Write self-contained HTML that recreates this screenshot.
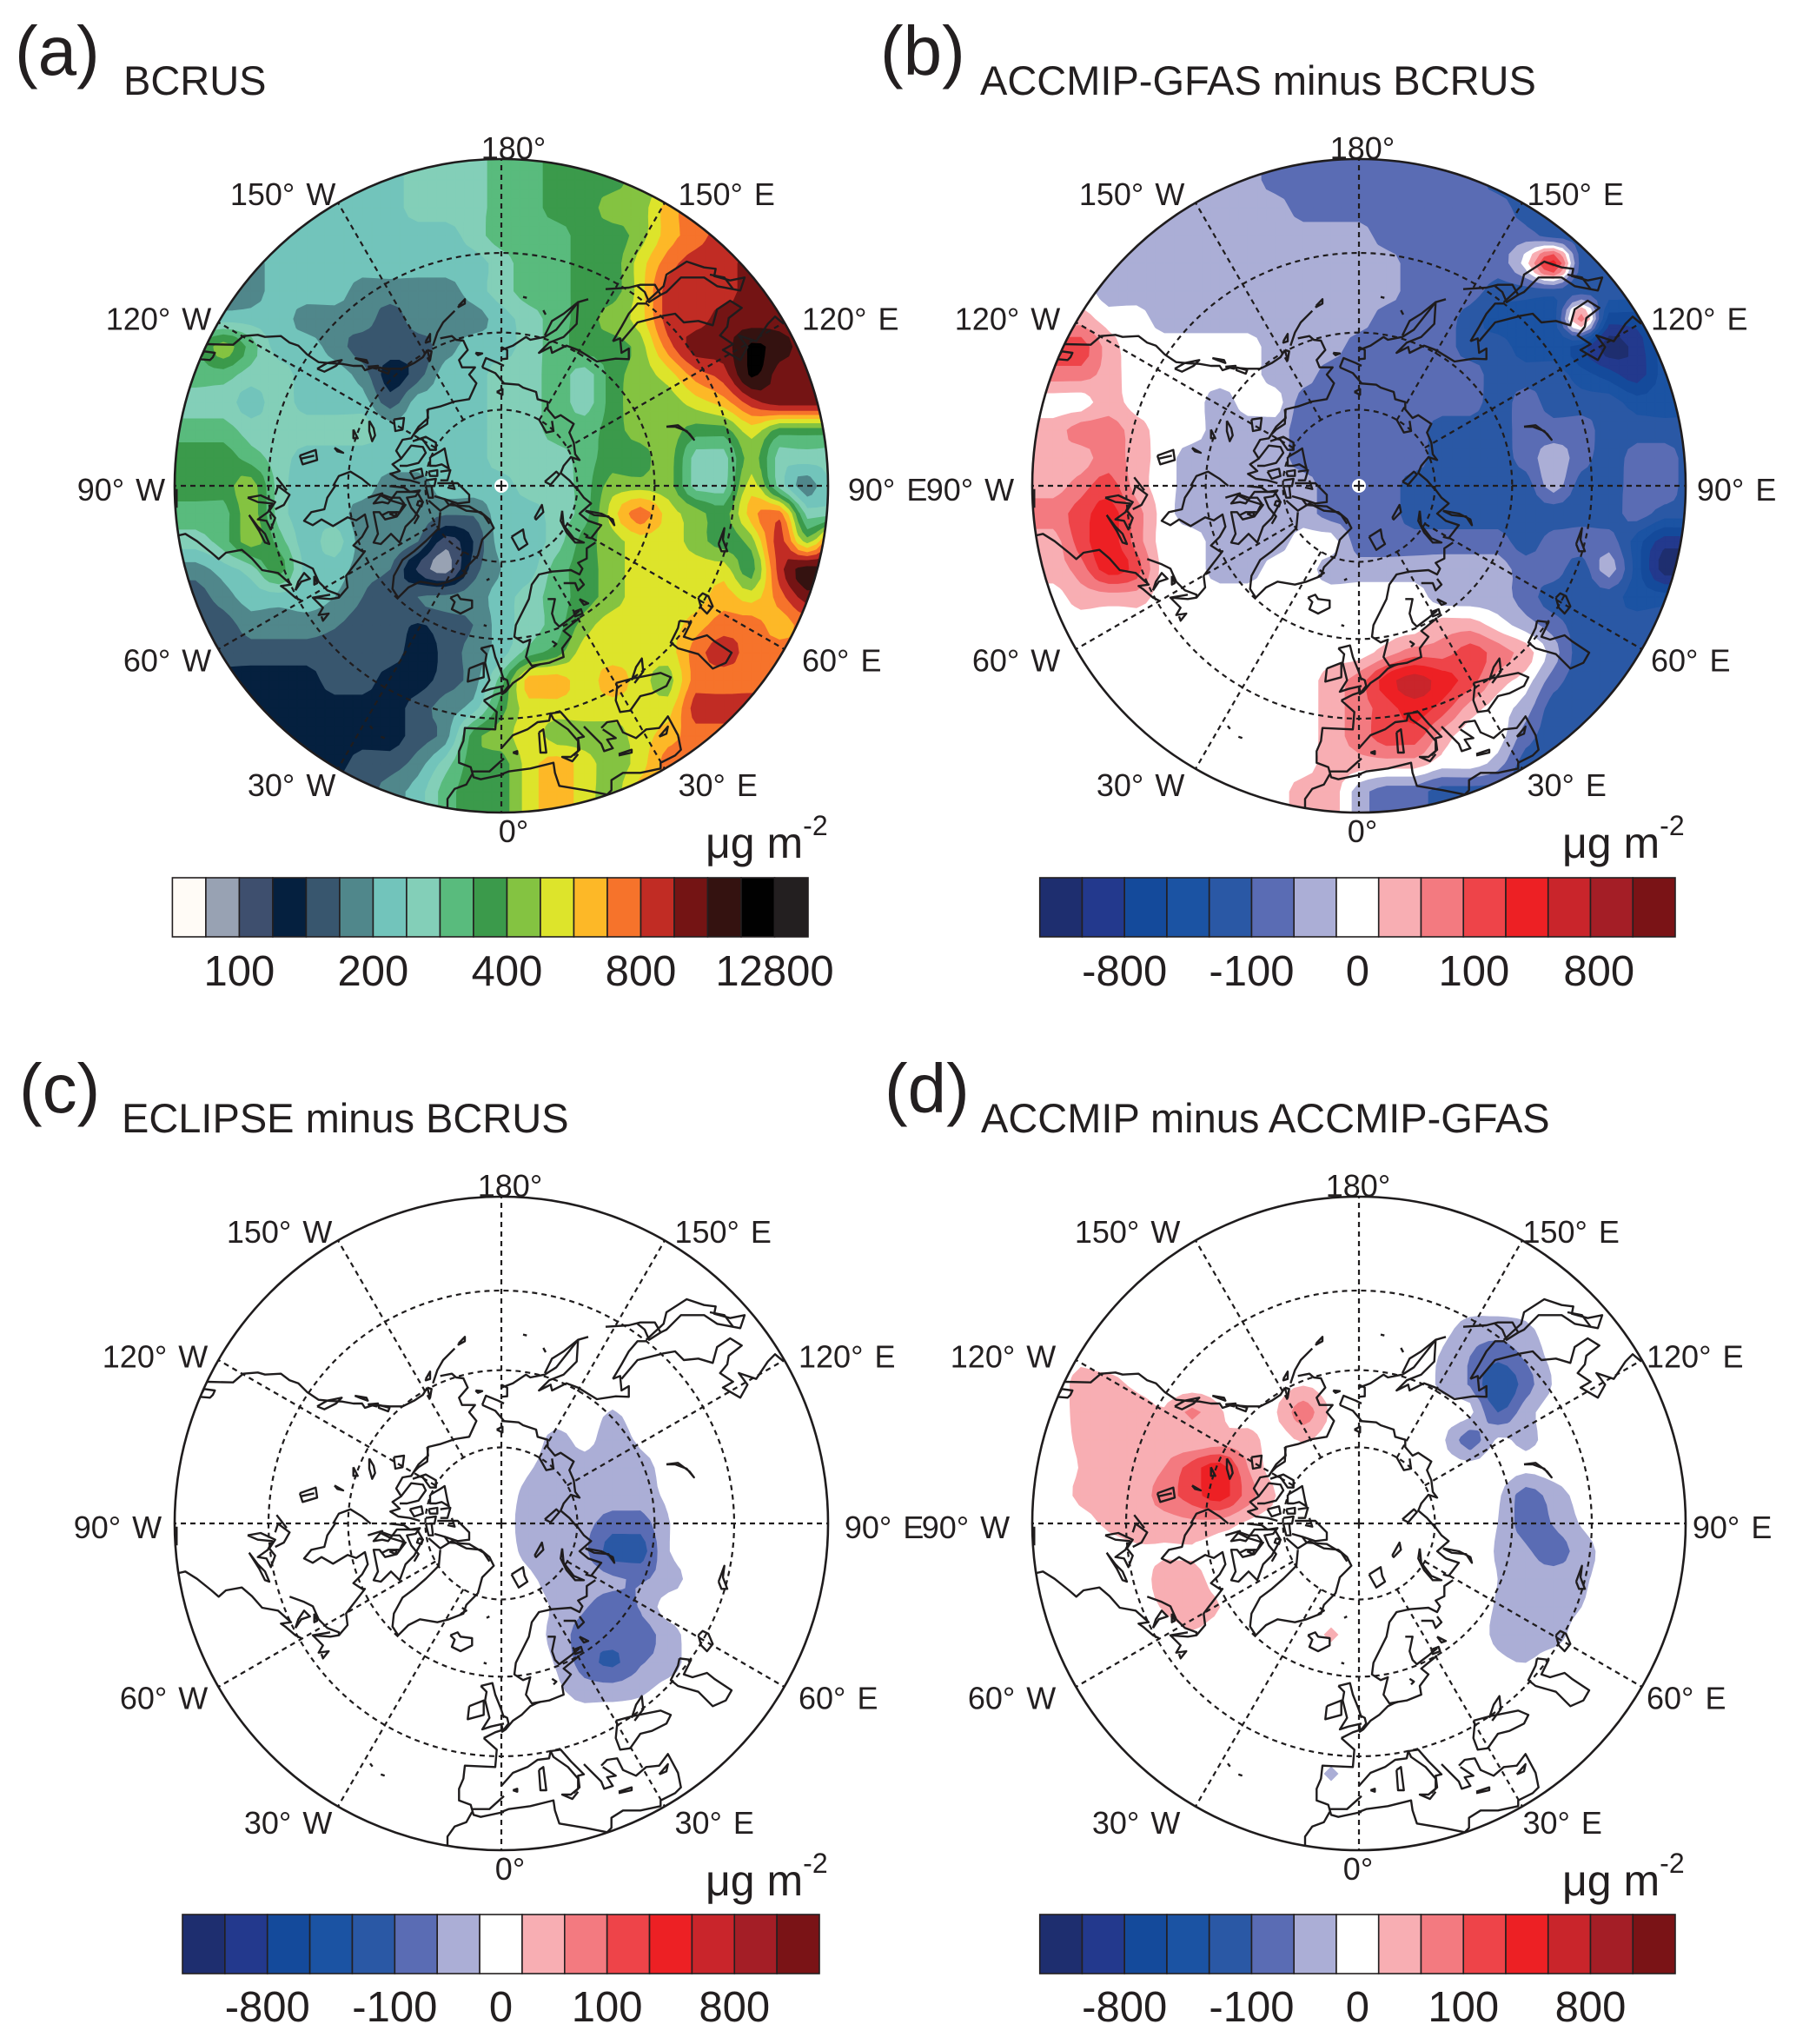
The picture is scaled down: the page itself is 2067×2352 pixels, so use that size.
<!DOCTYPE html>
<html lang="en">
<head>
<meta charset="utf-8">
<title>Arctic black carbon burden maps</title>
<style>
html,body{margin:0;padding:0;background:#fff}
svg{display:block}
text{font-family:"Liberation Sans",Arial,sans-serif;fill:#231f20}
</style>
</head>
<body>
<svg id="figure" xmlns="http://www.w3.org/2000/svg" width="2067" height="2352" viewBox="0 0 2067 2352">
  <rect width="2067" height="2352" fill="#fff"/>
  <text x="17" y="86" font-size="80">(a)</text>
  <text x="142" y="109" font-size="47">BCRUS</text>
  <text x="1013" y="86" font-size="80">(b)</text>
  <text x="1128" y="109" font-size="47">ACCMIP-GFAS minus BCRUS</text>
  <text x="22" y="1280" font-size="80">(c)</text>
  <text x="140" y="1303" font-size="47">ECLIPSE minus BCRUS</text>
  <text x="1018" y="1280" font-size="80">(d)</text>
  <text x="1129" y="1303" font-size="47">ACCMIP minus ACCMIP-GFAS</text>
  <text x="812" y="987" font-size="50">μg m<tspan font-size="32" dy="-26">-2</tspan></text>
  <text x="1798" y="987" font-size="50">μg m<tspan font-size="32" dy="-26">-2</tspan></text>
  <text x="812" y="2181" font-size="50">μg m<tspan font-size="32" dy="-26">-2</tspan></text>
  <text x="1798" y="2181" font-size="50">μg m<tspan font-size="32" dy="-26">-2</tspan></text>
</svg>
<script>
// ---------- chart data ----------
const longitudeTicks = [180, 150, 120, 90, 60, 30, 0, -30, -60, -90, -120, -150];
const latitudeRings = [80, 70, 60];
const boundaryLatitude = 48.8;
const sequentialColors = ['#fffbf6','#98a2b3','#3e4f6e','#05203f','#38566e','#50878b','#72c4bb','#83cfb8','#59bb7d','#3b9a4b','#84c341','#dde42b','#fdb827','#f6732b','#c12c24','#741414','#341210','#010101','#231f20'];
const divergingColors = ['#1e2e6f','#23398d','#144a9b','#1b53a3','#2a58a5','#5a6cb4','#abaed6','#ffffff','#f8aeb3','#f37a80','#ee4449','#ed2024','#c9252b','#a41e26','#7a1316'];
const sequentialBarLabels = ['100','200','400','800','12800'];
const divergingBarLabels = ['-800','-100','0','100','800'];

// level index of the colour bar at each node of a regular map grid (rows top to bottom)
const fieldBCRUS = [
[6,6,6,6,6,6,6,6,6,7,7,7,8,8,9,9,9,10,10,11,11,12,12,12,12],
[6,6,6,6,6,6,6,6,6,7,7,7,8,8,9,9,9,10,10,11,12,13,13,13,13],
[6,6,6,6,6,6,6,6,6,7,7,7,8,8,9,9,10,10,12,13,13,14,14,14,14],
[6,6,6,6,6,6,6,6,6,6,6,7,8,8,8,9,9,10,12,13,14,14,14,14,14],
[5,5,5,5,6,6,6,6,6,6,6,6,7,8,8,9,9,11,13,14,14,15,15,15,15],
[5,5,5,5,6,6,6,5,5,5,5,6,7,8,8,9,9,11,14,14,14,15,15,15,15],
[6,6,6,6,6,5,5,5,4,5,5,5,6,7,8,9,10,11,14,14,15,15,15,15,15],
[8,8,10,8,6,6,5,4,4,4,5,6,6,7,8,9,9,10,13,15,15,16.7,16,15,15],
[8,8,8,7,7,6,6,5,3,4,6,6,7,7,8,7,9,10,11,13,14,16.7,15,15,15],
[7,7,7,6,7,6,6,6,4,6,6,6,7,7,8,7,9,10,10,11,12,14,15,15,15],
[8,8,8,7,7,7,7,7,6,6,6,6,7,7,8,8,9,10,10,9,9,11,9,9,9],
[9,9,9,8,7,6,6,6,6,6,6,6,7,7,7,8,9,9,10,7,7,10,7,7,7],
[9,9,9,10,7,6,6,6,5,5,6,6,6,7,7,8,10,10,10,7,7,11,7,5,7],
[8,8,8,10,7,6,6,5,5,5,4.6,4.6,6,6,7,8,11,13,11,10,9,12,13,7,7],
[7,7,8,10,8,6,7,5,5,4.5,2,3.5,6,6,7,9,10,11,11,10,9,10,14,10,14],
[5,5,6,7,9,6,6,5,4.5,2.3,1,4,5.5,6,8,9,10,11,11,11,11,9,14,16,15],
[4,4,5,6,6,6,5.5,4.5,3.5,4.5,4.7,5,6,7,8,9,10,11,11,11,12,11,13,15,15],
[4,4,4,5,5,5,4.6,4,4,3.4,4,4.5,6,7,8,10,11,11,11,12,13,13,12,13,13],
[4,4,4,4,4,4,4,4,4,3,3.8,5,6,8,9,11,11,11,11,13,14,13,13,13,13],
[3,3,3,3,3,3,4,4,3,3,4,5,8,12,12,11,12,11,10,13,13,13,13,13,13],
[3,3,3,3,3,3,3,3,3,4,5,6,9,11,11,11,11,11,11,14,14,14,14,14,14],
[3,3,3,3,3,3,3,3,3,4,5,9,10,11,10,10,10,11,12,13,13,13,13,13,13],
[3,3,3,3,3,3,3,4,4,5,7,9,9,11,12,11,10,11,13,13,13,13,13,13,13],
[4,4,4,4,4,4,4,4,5,6,8,9,9,11,12,11,10,12,12,12,12,12,12,12,12],
[4,4,4,4,4,4,4,4,5,6,8,9,9,11,12,11,10,12,12,12,12,12,12,12,12]
];
const fieldGFASminusBCRUS = [
[-1,-1,-1,-1,-1,-1,-1,-1,-1,-2,-2,-2,-2,-2,-2,-2,-2,-3,-3,-3,-3,-3,-3,-3,-3],
[-1,-1,-1,-1,-1,-1,-1,-1,-1,-2,-2,-2,-2,-2,-2,-2,-2,-3,-3,-3,-3,-3,-3,-3,-3],
[-1,-1,-1,-1,-1,-1,-1,-1,-1,-1,-2,-2,-2,-2,-2,-2,-2,-2,-3,-3,-3,-3,-3,-3,-3],
[-1,-1,-1,-1,-1,-1,-1,-1,-1,-1,-1,-1,-1,-2,-2,-2,-2,-2,-2,-3,-3,-3,-3,-3,-3],
[-1,-1,-1,-1,-1,-1,-1,-1,-1,-1,-1,-1,-1,-1,-2,-2,-2,-2,0,4,-3,-3,-3,-3,-3],
[0,0,0,-1,-1,-1,-1,-1,-1,-1,-1,-1,-1,-1,-2,-2,-2,-3,-3,-3,-3,-3,-3,-3,-3],
[1,1,1,0,0,-1,-1,-1,-1,-1,-1,-1,-1,-2,-2,-2,-3,-4,-4,-4,2,-5,-5,-5,-5],
[3,3,3,1,0,0,0,0,0,-1,-1,-1,-2,-2,-2,-2,-3,-3,-4,-4,-5,-7,-6,-4,-4],
[2,2,2,1,0,0,0,0,0,-1,-1,-2,-2,-2,-2,-2,-2,-3,-3,-3,-4,-5,-6,-4,-4],
[0,0,0,1,0,0,0,-1,0,0,-2,-2,-2,-2,-2,-2,-2,-3,-2,-3,-3,-3,-4,-4,-4],
[1,1,2,2,1,0,0,-1,-1,-1,-2,-2,-2,-2,-2,-3,-3,-3,-2,-2,-2,-3,-3,-3,-3],
[1,1,1,2,1,0,-1,-1,-1,-1,-2,-2,-2,-2,-2,-3,-3,-3,-2,-1,-2,-3,-2,-2,-3],
[1,1,2,3,1,0,-1,-1,-1,-1,-1,-2,-2,-2,-3,-3,-3,-3,-3,-1,-3,-3,-2,-2,-3],
[2,2,3,4,2,0,-1,-1,-1,-1,-1,-2,-2,-2,-3,-3,-3,-3,-3,-3,-3,-3,-2,-3,-3],
[1,1,3,4,2,0,0,-1,-1,-1,0,0,-2,-2,-2,-2,-2,-2,-3,-2,-2,-2,-4,-6,-6],
[1,1,2,4,3,0,0,-1,-1,0,0,-1,-1,-1,-1,-1,-1,-1,-2,-2,-3,-1,-4,-7,-7],
[0,0,1,1,1,0,0,0,0,0,0,0,0,0,0,-1,-1,-1,-2,-3,-3,-3,-4,-4,-4],
[0,0,0,0,0,0,0,0,0,0,0,0,0,0,0,1,1,0,-1,-2,-3,-3,-3,-3,-3],
[0,0,0,0,0,0,0,0,0,0,0,0,0,1,2,2,3,2,1,-1,-3,-3,-3,-3,-3],
[0,0,0,0,0,0,0,0,0,0,0,1,2,4,5,4,3,1,0,-2,-3,-3,-3,-3,-3],
[0,0,0,0,0,0,0,0,0,0,0,1,2,3,4,3,1,0,-1,-3,-3,-3,-3,-3,-3],
[0,0,0,0,0,0,0,0,0,0,0,1,2,3,3,1,0,0,-2,-3,-3,-3,-3,-3,-3],
[0,0,0,0,0,0,0,0,0,0,0,1,1,1,1,0,0,-1,-3,-3,-3,-3,-3,-3,-3],
[0,0,0,0,0,0,0,0,0,0,1,1,-1,-2,-2,-3,-3,-3,-3,-3,-3,-3,-3,-3,-3],
[0,0,0,0,0,0,0,0,0,0,1,1,-1,-2,-2,-3,-3,-3,-3,-3,-3,-3,-3,-3,-3]
];
const fieldECLIPSEminusBCRUS = [
[0,0,0,0,0,0,0,0,0,0,0,0,0,0,0,0,0,0,0,0,0,0,0,0,0],
[0,0,0,0,0,0,0,0,0,0,0,0,0,0,0,0,0,0,0,0,0,0,0,0,0],
[0,0,0,0,0,0,0,0,0,0,0,0,0,0,0,0,0,0,0,0,0,0,0,0,0],
[0,0,0,0,0,0,0,0,0,0,0,0,0,0,0,0,0,0,0,0,0,0,0,0,0],
[0,0,0,0,0,0,0,0,0,0,0,0,0,0,0,0,0,0,0,0,0,0,0,0,0],
[0,0,0,0,0,0,0,0,0,0,0,0,0,0,0,0,0,0,0,0,0,0,0,0,0],
[0,0,0,0,0,0,0,0,0,0,0,0,0,0,0,0,0,0,0,0,0,0,0,0,0],
[0,0,0,0,0,0,0,0,0,0,0,0,0,0,0,0,0,0,0,0,0,0,0,0,0],
[0,0,0,0,0,0,0,0,0,0,0,0,0,0,0,0,-0.55,0,0,0,0,0,0,0,0],
[0,0,0,0,0,0,0,0,0,0,0,0,0,0,-0.8,-0.2,-1,-0.3,0,0,0,0,0,0,0],
[0,0,0,0,0,0,0,0,0,0,0,0,0,-0.4,-1,-0.9,-1,-0.9,-0.1,0,0,0,0,0,0],
[0,0,0,0,0,0,0,0,0,0,0,0,0,-0.8,-1,-1,-1,-1,-0.3,0,0,0,0,0,0],
[0,0,0,0,0,0,0,0,0,0,0,0,0,-1,-1,-1.2,-2,-2,-0.55,0,0,0,0,0,0],
[0,0,0,0,0,0,0,0,0,0,0,0,0,-0.8,-1,-1.3,-3,-3,-0.55,0,0,0,0,0,0],
[0,0,0,0,0,0,0,0,0,0,0,0,0,-0.3,-1,-1,-1.3,-1.6,-1,-0.1,0,0,0,0,0],
[0,0,0,0,0,0,0,0,0,0,0,0,0,0,-0.7,-1.4,-2,-1.4,0,0,0,0,0,0,0],
[0,0,0,0,0,0,0,0,0,0,0,0,0,0,-0.9,-2,-2,-2,-1,0,0,0,0,0,0],
[0,0,0,0,0,0,0,0,0,0,0,0,0,0,-0.6,-2,-2.7,-1.6,-1,0,0,0,0,0,0],
[0,0,0,0,0,0,0,0,0,0,0,0,0,0,-0.3,-1,-1,-0.7,-0.1,0,0,0,0,0,0],
[0,0,0,0,0,0,0,0,0,0,0,0,0,0,0,0,0,0,0,0,0,0,0,0,0],
[0,0,0,0,0,0,0,0,0,0,0,0,0,0,0,0,0,0,0,0,0,0,0,0,0],
[0,0,0,0,0,0,0,0,0,0,0,0,0,0,0,0,0,0,0,0,0,0,0,0,0],
[0,0,0,0,0,0,0,0,0,0,0,0,0,0,0,0,0,0,0,0,0,0,0,0,0],
[0,0,0,0,0,0,0,0,0,0,0,0,0,0,0,0,0,0,0,0,0,0,0,0,0],
[0,0,0,0,0,0,0,0,0,0,0,0,0,0,0,0,0,0,0,0,0,0,0,0,0]
];
const fieldACCMIPminusGFAS = [
[0,0,0,0,0,0,0,0,0,0,0,0,0,0,0,0,0,0,0,0,0,0,0,0,0],
[0,0,0,0,0,0,0,0,0,0,0,0,0,0,0,0,0,0,0,0,0,0,0,0,0],
[0,0,0,0,0,0,0,0,0,0,0,0,0,0,0,0,0,0,0,0,0,0,0,0,0],
[0,0,0,0,0,0,0,0,0,0,0,0,0,0,0,0,0,0,0,0,0,0,0,0,0],
[0,0,0,0,0,0,0,0,0,0,0,0,0,0,0,0,0,0,0,0,0,0,0,0,0],
[0,0,0,0,0,0,0,0,0,0,0,0,0,0,0,-0.2,-0.9,-1,-0.7,0,0,0,0,0,0],
[0,0,0.3,0,0,0,0,0,0,0,0,0,0,0,0,-0.6,-1.5,-2.2,-1.3,-0.2,0,0,0,0,0],
[0,0,0.8,0.8,0.3,0,0,0,0,0,0.4,0,0,0,0,-0.7,-1.6,-3.4,-2,-0.4,0,0,0,0,0],
[0,0,0.8,1,1,0.6,1.7,0.6,0,0.4,2,0.3,0,0,0,0,-0.2,-2.5,-0.9,0,0,0,0,0,0],
[0,0,0.7,1,1,0.9,0.7,0.8,0.9,0,0.6,0,0,0,0,-0.3,-2,-0.3,-0.8,0,0,0,0,0,0],
[0,0,0.55,1,1,1.5,3,4,1.5,0,0,0,0,0,0,0,0,0,-0.2,0,0,0,0,0,0],
[0,0,0.7,1,1,2,3,4,2,0.5,0,0,0,0,0,0,0,-0.3,-2,-1,-0.2,0,0,0,0],
[0,0,0.1,0.7,1,1,1.2,1,0.3,0,0,0,0,0,0,0,0,-0.5,-2,-1.4,-0.4,0,0,0,0],
[0,0,0,0,0.3,0.4,0.4,0,0,0,0,0,0,0,0,0,0,-0.6,-1.3,-2,-1,-0.1,0,0,0],
[0,0,0,0,0,0.9,0.9,0,0,0,0,0,0,0,0,0,0,-0.5,-1,-1,-0.7,0,0,0,0],
[0,0,0,0,0,0.6,1,0.5,0,0,0,0,0,0,0,0,0,-0.6,-1,-1,-0.5,0,0,0,0],
[0,0,0,0,0,0,0.4,0,0,0,0,0.6,0,0,0,0,0,-0.7,-1,-0.9,0,0,0,0,0],
[0,0,0,0,0,0,0,0,0,0,0,0,0,0,0,0,0,-0.3,-0.5,0,0,0,0,0,0],
[0,0,0,0,0,0,0,0,0,0,0,0,0,0,0,0,0,0,0,0,0,0,0,0,0],
[0,0,0,0,0,0,0,0,0,0,0,0,0,0,0,0,0,0,0,0,0,0,0,0,0],
[0,0,0,0,0,0,0,0,0,0,0,0,0,0,0,0,0,0,0,0,0,0,0,0,0],
[0,0,0,0,0,0,0,0,0,0,0,-0.6,0,0,0,0,0,0,0,0,0,0,0,0,0],
[0,0,0,0,0,0,0,0,0,0,0,0,0,0,0,0,0,0,0,0,0,0,0,0,0],
[0,0,0,0,0,0,0,0,0,0,0,0,0,0,0,0,0,0,0,0,0,0,0,0,0],
[0,0,0,0,0,0,0,0,0,0,0,0,0,0,0,0,0,0,0,0,0,0,0,0,0]
];

// coastline traces by map region: x,y pairs in third-of-a-map-unit steps
const coastNorthWest = [
[145,660,235,662,270,632,320,628,345,635,400,632,430,655,460,665,490,695,530,722,570,726,610,728,650,735,680,735,690,750,720,740,775,745,820,745,860,725,890,705,905,680],
[120,712,135,685,172,690,165,705,155,715,120,712],
[525,745,560,725,610,715,590,735,550,755,525,745],
[655,708,695,715,700,725,675,716,655,708],
[700,738,735,735,730,745,700,738],
[738,740,775,750,770,762,738,750,738,740],
[905,680,920,685,915,715,905,680],
[900,650,915,625,915,650,900,655,900,650],
[1013,528,1035,505,1035,520,1013,532,1013,528],
[925,665,940,620,960,585,1000,545],
[950,640,990,632,1005,645,1030,648,1045,680,1015,715,1025,740,1070,740,1050,765,1075,795,1050,850,1000,858,950,875,908,885,905,935,875,955,860,970],
[790,920,825,915,820,955,795,960,790,920],
[705,925,720,950,725,975,715,995,705,960,705,925],
[650,955,665,985,650,985,650,955],
[465,1045,520,1025,525,1060,475,1075,465,1045],
[470,1055,515,1045],
[585,1018,615,1035,595,1030,585,1018],
[1072,690,1095,692,1080,698,1072,690],
[1095,740,1108,708,1150,725,1170,735],
[1170,795,1140,760,1095,740],
[1145,825,1165,815,1165,835,1145,825],
[580,1150,600,1115,640,1100,680,1125,710,1150],
[385,1120,420,1165]
];
const coastArchipelago = [
[155,45,158,75,125,105,100,145,70,150,48,188,65,215,35,235,60,258,28,268,55,285,95,290,130,300],
[105,155,150,140,185,160,185,185,165,185,140,150,120,145],
[65,215,100,170,140,175,150,195,125,230,85,240,60,240],
[95,260,135,250,140,275,110,285,95,260],
[165,210,200,190,215,180,225,230,230,250,205,235,185,240,165,240,165,210],
[160,260,190,255,190,275,165,275,160,260],
[200,260,235,255,225,290,200,290],
[150,290,185,285,180,310,150,310],
[150,310,160,350,175,350,170,310],
[190,300,260,300,300,340,300,365,260,370,215,355,180,345],
[215,355,230,375,300,380,350,410,370,440],
[240,290,250,320,225,315],
[25,310,75,315,95,330,130,325,115,345,85,350,100,385,125,415,110,440],
[0,340,30,350,60,350,75,370,60,400,20,400,0,410],
[125,360,140,365,135,380,120,375,125,360],
[25,405,50,400,45,415,25,405]
];
const coastNorthEast = [
[0,795,60,800,75,810,120,825,125,850,160,860,160,885,185,915,205,905,250,935,235,965,250,1000,255,1040,270,1060,240,1050,215,1080,205,1105,235,1130,265,1165],
[130,920,155,965,180,960,175,925],
[150,1135,190,1100,200,1110,170,1145,150,1135],
[0,680,40,665,85,635,100,645,150,635,190,610,265,515,300,505],
[265,515,260,590,215,635,165,655,130,690,170,670,175,690,225,665,265,680,330,720,395,710,440,712,440,675,415,690,410,640,385,650],
[0,670,20,680,20,710,0,712],
[150,630,175,580,215,555,265,515],
[385,650,415,600,440,555,470,520,500,520],
[415,650,470,585,560,562,600,555,630,585,680,580,730,595,745,540,790,510,830,535,785,570,780,600,755,630,785,650,800,660,765,680,825,715,850,670,820,630,880,650,920,590,945,565,975,590],
[360,470,440,465,480,455,530,455,550,490,510,515,495,480,470,460],
[500,515,560,460,570,420,640,375,700,395,740,400,735,425,790,440,840,430,825,475,745,460,700,430,620,430,570,480,550,490],
[720,420,770,430,800,470],
[570,945,610,940,650,970,665,990,640,960,600,945,570,945],
[75,497,88,500],
[145,543,153,558]
];
const coastSouthWest = [
[40,20,40,85],
[48,180,70,175,110,200,160,240,185,262,210,240,265,230,300,260,335,300,390,310,435,350,400,355,415,365,450,395,470,405],
[430,262,480,280,510,295,530,340,560,370,600,385,600,395,570,400,510,395,545,430,530,455,565,450,545,475,540,460],
[450,370,470,340,500,330,480,310,460,340,450,370],
[515,320,525,345,515,350,515,320],
[510,395,570,385],
[285,50,330,42,380,65,360,95,380,120,365,160,350,130,320,125,355,100,370,70,320,65,285,50],
[380,40,390,10,430,40,410,75,380,90],
[290,110,325,165,345,205,360,210,345,175,320,150,290,110],
[590,5,560,50,550,90,505,100,480,130,510,145,540,125,580,148,630,118,660,128,690,108,700,150,680,185,650,215,680,235,690,235,640,300,625,320,630,360,600,395],
[700,50,750,35,720,70,750,65,770,70,800,30,870,30,890,65,860,120,830,150,810,205,780,175,745,210,720,205,735,175,720,100,740,100,760,125,800,115,830,75,780,60,740,40],
[910,60,950,95,990,70,1040,95,1090,100,1120,125,1135,155,1095,195,1080,250,1040,290,1030,320,980,340,940,350,880,340,840,360,805,395,785,365,790,320,820,265,860,235,900,200,945,155,950,100],
[1025,300,1040,310,1020,322],
[985,395,1010,385,1020,400,1060,405,1060,430,1020,450,990,435,1000,410,985,395],
[1110,335,1120,330],
[1100,490,1110,493],
[1090,570,1130,560,1140,600,1160,650,1170,680],
[1090,570,1110,590,1105,620,1120,680,1095,720,1125,710,1170,700],
[1050,640,1100,620,1100,670,1045,685,1050,640],
[1100,750,1140,730,1170,720],
[1100,750,1145,790,1140,850,1035,845,1030,890,1015,925,1015,965,1055,980,1065,1015,1090,1022,1170,1005],
[1060,995,1120,995,1170,950],
[1060,1005,1040,1040,1000,1055,975,1090,975,1125],
[708,838,716,848],
[745,875,758,880]
];
const coastSouthEast = [
[255,10,285,50,310,70,270,105,300,130,345,145,310,190,290,185],
[290,95,345,105,385,125,390,145,370,115,320,110,290,95],
[210,95,215,145,250,190,285,205,255,205,225,170,205,130,210,95],
[35,185,75,160,80,190,90,210,60,230,35,185],
[115,120,140,75,145,100,120,125,115,120],
[325,205,295,225,295,260,265,275,280,295,270,315,240,300,175,305,130,315,105,350,95,400,50,490,45,530,75,550,100,540,85,600,105,630,135,625,165,620,215,600,210,570,240,530,215,510,270,465],
[160,400,185,400,175,450,185,480,200,495,240,465,270,440],
[215,345,255,345,265,370,285,350,270,330],
[250,445,275,435,280,450,255,460,250,445],
[270,400,300,415,285,420,270,400],
[175,545,190,555,180,565],
[135,625,120,630,100,640,70,670,40,690,15,720,0,730],
[0,670,20,680,25,700,5,725,0,700],
[615,475,655,480,630,530,660,540,710,525,735,545,795,585,775,620,730,640,700,610,680,590,610,570,585,550,610,500,615,475],
[680,395,695,380,715,390,730,425,710,450,690,430,680,395],
[750,210,770,155,765,195,780,235,760,235,750,210],
[395,690,450,675,550,655,585,670,570,700,520,725,480,735,445,785,410,790,395,750,400,700,395,690],
[450,680,465,635,485,605,490,650,460,690],
[345,845,365,825,400,820,420,860,465,880,500,850,545,845,575,805,610,870,620,920,600,940,550,965,550,985,480,1000,420,1000,380,1025,380,1060,365,1075,290,1060,200,1045,185,1000,180,965,100,985,25,995,0,1005],
[170,795,205,790,240,830,285,875,265,880,270,920,240,945,210,945,245,960,265,935],
[170,795,180,815,230,850,265,890,265,925,250,940],
[285,840,345,900,355,925,385,915,365,885,395,880,350,850],
[0,915,40,870,90,850,125,825,165,820,170,795],
[130,860,145,850,155,930,135,930,130,860],
[40,930,55,925,55,935,40,930],
[405,935,450,920,450,930,405,940],
[545,875,575,840,570,865,545,875]
];

// ---------- layout ----------
const SVG_NS = 'http://www.w3.org/2000/svg';
const figure = document.getElementById('figure');
const GRID_STEP = 32, GRID_ORIGIN = -384, MAP_RADIUS = 376, STEREO_SCALE = 1000, REFINE = 3;
const INK = '#1f1c1d';

const panelConfigs = [
  {key:'a', cx:577, cy:559, labelShift:0,   field:fieldBCRUS,             diverging:false, barX:198.4, barW:731.6, barY:1010, barH:68, labelY:1134, stops:[2,6,10,14,18]},
  {key:'b', cx:1564, cy:559, labelShift:-10, field:fieldGFASminusBCRUS,    diverging:true,  barX:1196.7, barW:731.3, barY:1010, barH:68, labelY:1134, stops:[2,5,7.5,10.25,13.2]},
  {key:'c', cx:577, cy:1753, labelShift:-4,  field:fieldECLIPSEminusBCRUS, diverging:true,  barX:210, barW:733, barY:2203, barH:68, labelY:2326, stops:[2,5,7.5,10,13]},
  {key:'d', cx:1564, cy:1753, labelShift:-15, field:fieldACCMIPminusGFAS,  diverging:true,  barX:1196.7, barW:731.3, barY:2203, barH:68, labelY:2326, stops:[2,5,7.5,10,13]}
];

// ---------- axis functions ----------
function gridX(i){ return GRID_ORIGIN + GRID_STEP * i; }
function gridY(j){ return GRID_ORIGIN + GRID_STEP * j; }
function radiusOfLatitude(lat){ return STEREO_SCALE * Math.tan((90 - lat) / 2 * Math.PI / 180); }
function lonLatToMap(lon, lat){
  const a = lon * Math.PI / 180, r = radiusOfLatitude(lat);
  return [r * Math.sin(a), r * Math.cos(a)];
}

function cubic1d(a, b, c, d, t){
  const v = 0.5 * (2 * b + (c - a) * t + (2 * a - 5 * b + 4 * c - d) * t * t + (3 * b - a - 3 * c + d) * t * t * t);
  return Math.min(Math.max(v, Math.min(b, c)), Math.max(b, c));
}
function refineField(field, n){
  const rows = field.length, cols = field[0].length;
  const at = function(j, i){ return field[Math.max(0, Math.min(rows - 1, j))][Math.max(0, Math.min(cols - 1, i))]; };
  const out = [];
  for (let y = 0; y <= (rows - 1) * n; y++){
    const j = Math.floor(y / n), tj = y / n - j, row = [];
    for (let x = 0; x <= (cols - 1) * n; x++){
      const i = Math.floor(x / n), ti = x / n - i, col = [];
      for (let m = -1; m <= 2; m++){
        col.push(cubic1d(at(j + m, i - 1), at(j + m, i), at(j + m, i + 1), at(j + m, i + 2), ti));
      }
      row.push(cubic1d(col[0], col[1], col[2], col[3], tj));
    }
    out.push(row);
  }
  return out;
}

function clipCell(corners, threshold, sign){
  const out = [];
  for (let k = 0; k < 4; k++){
    const p = corners[k], q = corners[(k + 1) % 4];
    const vp = sign * p[2], vq = sign * q[2];
    if (vp >= threshold) out.push([p[0], p[1]]);
    if ((vp >= threshold) !== (vq >= threshold)){
      const t = (threshold - vp) / (vq - vp);
      out.push([p[0] + t * (q[0] - p[0]), p[1] + t * (q[1] - p[1])]);
    }
  }
  return out;
}

function bandPath(fine, threshold, sign){
  let d = '';
  for (let j = 0; j < fine.length - 1; j++){
    for (let i = 0; i < fine[j].length - 1; i++){
      const a = fine[j][i], b = fine[j][i + 1], c = fine[j + 1][i + 1], e = fine[j + 1][i];
      if (Math.min(sign * a, sign * b, sign * c, sign * e) >= threshold + 1.2) continue;
      if (Math.max(sign * a, sign * b, sign * c, sign * e) < threshold) continue;
      const corners = [
        [gridX(i / REFINE), gridY(j / REFINE), a],
        [gridX((i + 1) / REFINE), gridY(j / REFINE), b],
        [gridX((i + 1) / REFINE), gridY((j + 1) / REFINE), c],
        [gridX(i / REFINE), gridY((j + 1) / REFINE), e]
      ];
      const poly = clipCell(corners, threshold, sign);
      if (poly.length > 2){
        d += 'M' + poly.map(function(p){ return p[0].toFixed(1) + ' ' + p[1].toFixed(1); }).join('L') + 'Z';
      }
    }
  }
  return d;
}

function addBand(group, fine, threshold, sign, color, level){
  const d = bandPath(fine, threshold, sign);
  if (!d) return;
  const path = document.createElementNS(SVG_NS, 'path');
  
  
  path.setAttribute('data-level', level);
  path.setAttribute('d', d);
  path.setAttribute('fill', color);
  path.setAttribute('stroke', color);
  path.setAttribute('stroke-width', '0.7');
  path.setAttribute('stroke-linejoin', 'round');
  group.appendChild(path);
}

function addCoast(group, traces, originX, originY){
  traces.forEach(function(trace){
    let d = '';
    for (let n = 0; n < trace.length; n += 2){
      d += (n ? 'L' : 'M') + (trace[n] / 3 + originX).toFixed(1) + ' ' + (trace[n + 1] / 3 + originY).toFixed(1);
    }
    const line = document.createElementNS(SVG_NS, 'path');
    
    
    line.setAttribute('d', d);
    line.setAttribute('fill', 'none');
    line.setAttribute('stroke', INK);
    line.setAttribute('stroke-width', '2.4');
    line.setAttribute('stroke-linejoin', 'round');
    group.appendChild(line);
  });
}

function lonLabel(lon){
  if (lon === 180 || lon === 0) return lon + '°';
  return Math.abs(lon) + '° ' + (lon < 0 ? 'W' : 'E');
}

function drawPanel(cfg){
  const panel = document.createElementNS(SVG_NS, 'g');
  
  
  panel.setAttribute('transform', 'translate(' + cfg.cx + ' ' + cfg.cy + ')');
  figure.appendChild(panel);

  const clip = document.createElementNS(SVG_NS, 'clipPath');
  clip.setAttribute('id', 'disc-' + cfg.key);
  const clipShape = document.createElementNS(SVG_NS, 'circle');
  clipShape.setAttribute('r', MAP_RADIUS);
  clip.appendChild(clipShape);
  panel.appendChild(clip);

  const disc = document.createElementNS(SVG_NS, 'g');
  
  
  disc.setAttribute('clip-path', 'url(#disc-' + cfg.key + ')');
  panel.appendChild(disc);

  const bg = document.createElementNS(SVG_NS, 'circle');
  
  
  bg.setAttribute('r', MAP_RADIUS);
  bg.setAttribute('fill', '#fff');
  disc.appendChild(bg);

  const fine = refineField(cfg.field, REFINE);
  if (cfg.diverging){
    for (let k = 1; k <= 7; k++){
      addBand(disc, fine, k - 0.5, 1, divergingColors[7 + k], k);
      addBand(disc, fine, k - 0.5, -1, divergingColors[7 - k], -k);
    }
  } else {
    for (let k = 1; k < sequentialColors.length; k++){
      addBand(disc, fine, k - 0.5, 1, sequentialColors[k], k);
    }
  }

  addCoast(disc, coastNorthWest, -387, -383);
  addCoast(disc, coastArchipelago, -137, -103);
  addCoast(disc, coastNorthEast, 0, -383);
  addCoast(disc, coastSouthWest, -387, -3);
  addCoast(disc, coastSouthEast, 0, -3);

  if (cfg.key === 'a' || cfg.key === 'b'){
    const pole = document.createElementNS(SVG_NS, 'circle');
    
    
    pole.setAttribute('r', '8');
    pole.setAttribute('fill', '#fff');
    disc.appendChild(pole);
  }

  latitudeRings.forEach(function(lat){
    const ring = document.createElementNS(SVG_NS, 'circle');
    
    
    ring.setAttribute('r', radiusOfLatitude(lat));
    ring.setAttribute('fill', 'none');
    ring.setAttribute('stroke', INK);
    ring.setAttribute('stroke-width', '2.2');
    ring.setAttribute('stroke-dasharray', '6 5');
    disc.appendChild(ring);
  });

  longitudeTicks.forEach(function(lon){
    const end = lonLatToMap(lon, boundaryLatitude);
    const start = (lon % 90 === 0) ? [0, 0] : lonLatToMap(lon, latitudeRings[0]);
    const line = document.createElementNS(SVG_NS, 'line');
    
    
    line.setAttribute('x1', start[0]);
    line.setAttribute('y1', start[1]);
    line.setAttribute('x2', end[0]);
    line.setAttribute('y2', end[1]);
    line.setAttribute('stroke', INK);
    line.setAttribute('stroke-width', '2.2');
    line.setAttribute('stroke-dasharray', '6 5');
    disc.appendChild(line);

    const a = lon * Math.PI / 180, s2 = Math.sin(a) * Math.sin(a);
    const label = document.createElementNS(SVG_NS, 'text');
    
    
    label.setAttribute('font-size', '36');
    label.setAttribute('word-spacing', '3');
    let lx = end[0], anchor = 'middle';
    if (lon === 180 || lon === 0){ lx += 14; }
    else if (lon < 0){ lx -= 11 * s2; anchor = 'end'; }
    else { lx += 13 + 10 * s2; anchor = 'start'; }
    label.setAttribute('x', lx + cfg.labelShift);
    label.setAttribute('y', end[1] + 17 * (1 + Math.cos(a)));
    label.setAttribute('text-anchor', anchor);
    label.textContent = lonLabel(lon);
    panel.appendChild(label);
  });

  const outline = document.createElementNS(SVG_NS, 'circle');
  
  
  outline.setAttribute('r', MAP_RADIUS);
  outline.setAttribute('fill', 'none');
  outline.setAttribute('stroke', INK);
  outline.setAttribute('stroke-width', '2.6');
  panel.appendChild(outline);

  const colors = cfg.diverging ? divergingColors : sequentialColors;
  const labels = cfg.diverging ? divergingBarLabels : sequentialBarLabels;
  const boxW = cfg.barW / colors.length;
  const bar = document.createElementNS(SVG_NS, 'g');
  
  
  figure.appendChild(bar);
  colors.forEach(function(color, k){
    const box = document.createElementNS(SVG_NS, 'rect');
    
    
    box.setAttribute('x', cfg.barX + k * boxW);
    box.setAttribute('y', cfg.barY);
    box.setAttribute('width', boxW);
    box.setAttribute('height', cfg.barH);
    box.setAttribute('fill', color);
    box.setAttribute('stroke', '#231f20');
    box.setAttribute('stroke-width', '1.6');
    bar.appendChild(box);
  });
  labels.forEach(function(text, k){
    const tick = document.createElementNS(SVG_NS, 'text');
    
    
    tick.setAttribute('x', cfg.barX + cfg.stops[k] * boxW);
    tick.setAttribute('y', cfg.labelY);
    tick.setAttribute('font-size', '49');
    tick.setAttribute('text-anchor', 'middle');
    tick.textContent = text;
    bar.appendChild(tick);
  });
}

panelConfigs.forEach(drawPanel);
</script>
</body>
</html>
